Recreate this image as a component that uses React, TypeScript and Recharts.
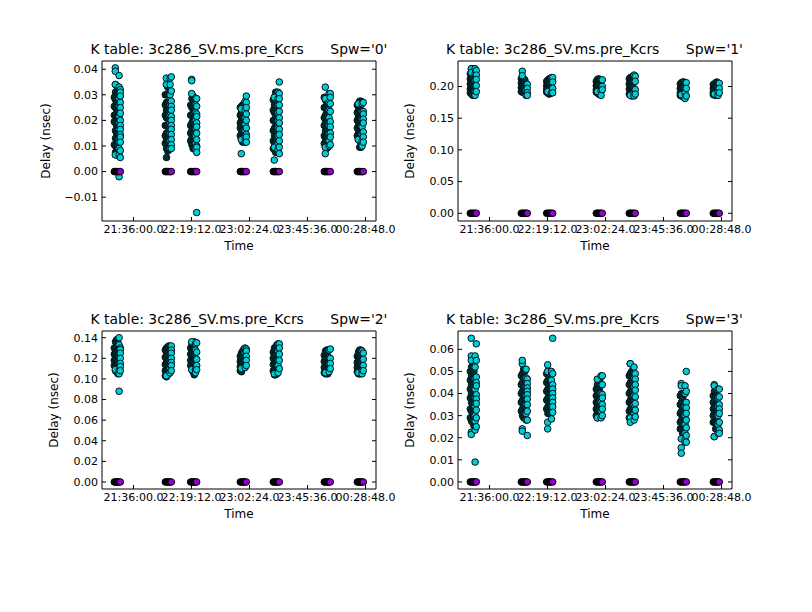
import { ScatterChart, Scatter, XAxis, YAxis, Label } from 'recharts';

// seconds since midnight of the previous day, last solution of each scan
const scanTimes = [77170, 79449, 80583, 82800, 84274, 86553, 88028];
// time of each column of solutions relative to the scan's last one (seconds)
const columnOffsets = [-268, -214, -161, -224, -107, -54, 0];
const backColumns = [0, 1, 2, 4];
const frontColumns = [3, 5, 6];

const timeTicks = [77760, 80352, 82944, 85536, 88128];
const timeLabels = ['21:36:00.0', '22:19:12.0', '23:02:24.0', '23:45:36.0', '00:28:48.0'];
const timeDomain = [76352, 88596];

// each scan: seven columns of delays (nsec)
const spw0Scans = [
  [
    [0.029, 0.0255, 0.022, 0.0195, 0.0105],
    [0.034, 0.031, 0.028, 0.025, 0.022, 0.019, 0.016, 0.013, 0.01, 0.0075],
    [0.0335, 0.03, 0.027, 0.024, 0.021, 0.018, 0.015, 0.012, 0.009, 0.0065],
    [0.0405, 0.0392, 0.034, 0.0065],
    [0.033, 0.03, 0.026, 0.024, 0.021, 0.018, 0.015, 0.012, 0.0105, 0.0085, 0.007],
    [0.0375, 0.033, 0.0285, 0.0255, 0.0215, 0.019, 0.0165, 0.0125, 0.0115, 0.009, 0.0065, -0.002],
    [0.032, 0.031, 0.0295, 0.027, 0.025, 0.0228, 0.02, 0.018, 0.0165, 0.0145, 0.0135, 0.0115, 0.0082, 0.0055],
  ],
  [
    [0.03, 0.026, 0.022, 0.018, 0.014, 0.011],
    [0.03, 0.027, 0.024, 0.021, 0.018, 0.015, 0.012, 0.009, 0.0055],
    [0.033, 0.03, 0.027, 0.024, 0.021, 0.018, 0.015, 0.012, 0.008],
    [0.0365, 0.034],
    [0.031, 0.027, 0.023, 0.02, 0.017, 0.014, 0.011, 0.0085],
    [0.0365, 0.034, 0.03, 0.026, 0.022, 0.019, 0.015, 0.012, 0.009],
    [0.037, 0.0315, 0.0275, 0.0255, 0.024, 0.0215, 0.02, 0.018, 0.0165, 0.0145, 0.0125, 0.0105, 0.009],
  ],
  [
    [0.026, 0.022, 0.018, 0.015, 0.012],
    [0.0285, 0.025, 0.022, 0.019, 0.016, 0.013, 0.0105],
    [0.0295, 0.026, 0.023, 0.02, 0.017, 0.014, 0.011, 0.009],
    [0.036, 0.0355, 0.0305],
    [0.027, 0.024, 0.021, 0.018, 0.015, 0.012, 0.0095],
    [0.0285, 0.026, 0.023, 0.02, 0.017, 0.014, 0.011, 0.0085],
    [0.0285, 0.0255, 0.0225, 0.0215, 0.019, 0.0175, 0.015, 0.0125, 0.01, 0.0095, 0.0075, -0.016],
  ],
  [
    [0.025, 0.022, 0.019, 0.017, 0.014],
    [0.0255, 0.023, 0.02, 0.018, 0.015, 0.013],
    [0.026, 0.023, 0.021, 0.019, 0.016, 0.0135, 0.0115],
    [0.0245, 0.0125, 0.007],
    [0.0265, 0.024, 0.021, 0.018, 0.015, 0.012],
    [0.0275, 0.024, 0.021, 0.0185, 0.016, 0.0135, 0.0115],
    [0.0295, 0.027, 0.025, 0.0225, 0.02, 0.017, 0.0145, 0.0135, 0.0115],
  ],
  [
    [0.028, 0.024, 0.02, 0.016, 0.012, 0.009],
    [0.029, 0.026, 0.023, 0.02, 0.017, 0.014, 0.011, 0.0085],
    [0.031, 0.028, 0.025, 0.022, 0.019, 0.016, 0.013, 0.01, 0.0075],
    [0.029, 0.0095, 0.0045],
    [0.031, 0.027, 0.023, 0.02, 0.017, 0.014, 0.011, 0.008],
    [0.031, 0.0285, 0.026, 0.023, 0.02, 0.017, 0.014, 0.011, 0.0085],
    [0.035, 0.0305, 0.0285, 0.026, 0.0235, 0.021, 0.019, 0.0165, 0.0145, 0.012, 0.0095, 0.007],
  ],
  [
    [0.029, 0.025, 0.021, 0.018, 0.014, 0.011],
    [0.028, 0.025, 0.022, 0.019, 0.016, 0.013, 0.0095],
    [0.029, 0.026, 0.023, 0.02, 0.017, 0.014, 0.012, 0.009],
    [0.033, 0.0285, 0.0095, 0.007],
    [0.029, 0.026, 0.022, 0.019, 0.016, 0.013, 0.0095],
    [0.0305, 0.027, 0.024, 0.021, 0.018, 0.015, 0.012, 0.01],
    [0.0305, 0.029, 0.0265, 0.0235, 0.0195, 0.0175, 0.015, 0.0135, 0.0105],
  ],
  [
    [0.026, 0.023, 0.02, 0.017, 0.014],
    [0.0265, 0.024, 0.021, 0.018, 0.015, 0.0125],
    [0.0275, 0.024, 0.021, 0.018, 0.015, 0.012, 0.0095],
    [0.0265, 0.0125],
    [0.0275, 0.024, 0.021, 0.018, 0.015, 0.012, 0.0095],
    [0.0265, 0.0235, 0.0205, 0.0175, 0.0145, 0.012, 0.01],
    [0.027, 0.0235, 0.0225, 0.0205, 0.019, 0.0155, 0.0135, 0.0115],
  ],
];

const spw1Scans = [
  [
    [0.22, 0.212, 0.204, 0.196, 0.19],
    [0.228, 0.22, 0.212, 0.204, 0.196, 0.188],
    [0.228, 0.22, 0.212, 0.204, 0.196, 0.186],
    [0.228, 0.222],
    [0.228, 0.218, 0.208, 0.198, 0.19],
    [0.228, 0.22, 0.21, 0.192, 0.186],
    [0.225, 0.218, 0.211, 0.2015, 0.192],
  ],
  [
    [0.212, 0.205, 0.198, 0.192],
    [0.21, 0.204, 0.198, 0.191],
    [0.212, 0.205, 0.198, 0.19],
    [0.224, 0.217],
    [0.21, 0.203, 0.197, 0.19],
    [0.194, 0.186],
    [0.2035, 0.197, 0.19, 0.186],
  ],
  [
    [0.208, 0.201, 0.195, 0.191],
    [0.21, 0.203, 0.196, 0.19],
    [0.212, 0.204, 0.196, 0.188],
    [0.192],
    [0.212, 0.204, 0.196, 0.189],
    [0.214, 0.19],
    [0.214, 0.207, 0.197, 0.19],
  ],
  [
    [0.208, 0.201, 0.195, 0.191],
    [0.211, 0.204, 0.197, 0.19],
    [0.212, 0.205, 0.197, 0.188],
    [0.192],
    [0.21, 0.202, 0.195, 0.187],
    [0.193, 0.186],
    [0.2105, 0.2, 0.195],
  ],
  [
    [0.212, 0.204, 0.196, 0.188],
    [0.214, 0.206, 0.198, 0.19],
    [0.215, 0.207, 0.199, 0.191, 0.185],
    [0.186],
    [0.216, 0.208, 0.2, 0.192, 0.186],
    [0.218, 0.19, 0.185],
    [0.216, 0.208, 0.195, 0.188],
  ],
  [
    [0.204, 0.197, 0.19, 0.186],
    [0.206, 0.199, 0.192, 0.185],
    [0.207, 0.2, 0.193, 0.185],
    [0.187],
    [0.207, 0.199, 0.191, 0.183],
    [0.19, 0.181],
    [0.206, 0.197, 0.185],
  ],
  [
    [0.203, 0.197, 0.191, 0.187],
    [0.204, 0.198, 0.192, 0.187],
    [0.206, 0.199, 0.192, 0.186],
    [0.188],
    [0.207, 0.2, 0.192, 0.186],
    [0.192, 0.186],
    [0.205, 0.197, 0.19],
  ],
];

const spw2Scans = [
  [
    [0.13, 0.124, 0.118, 0.113],
    [0.136, 0.13, 0.124, 0.118, 0.113, 0.108],
    [0.138, 0.131, 0.125, 0.119, 0.113, 0.107],
    [0.109],
    [0.135, 0.128, 0.122, 0.116, 0.11, 0.105],
    [0.14, 0.133, 0.108, 0.105, 0.088],
    [0.13, 0.1285, 0.125, 0.12, 0.115, 0.112, 0.108],
  ],
  [
    [0.128, 0.121, 0.114, 0.108, 0.103],
    [0.13, 0.123, 0.116, 0.109, 0.102],
    [0.131, 0.124, 0.117, 0.11, 0.104],
    [0.103],
    [0.132, 0.125, 0.118, 0.111, 0.105],
    [0.11, 0.106],
    [0.132, 0.128, 0.125, 0.12, 0.116, 0.113, 0.108],
  ],
  [
    [0.13, 0.124, 0.118, 0.113],
    [0.134, 0.128, 0.122, 0.116, 0.11],
    [0.135, 0.129, 0.123, 0.117, 0.111, 0.107],
    [0.136, 0.109],
    [0.136, 0.13, 0.123, 0.117, 0.11, 0.104],
    [0.134, 0.128, 0.109, 0.106],
    [0.135, 0.126, 0.119, 0.113, 0.109],
  ],
  [
    [0.122, 0.117, 0.112, 0.108],
    [0.125, 0.12, 0.115, 0.11, 0.107],
    [0.127, 0.121, 0.116, 0.111],
    [0.11],
    [0.129, 0.123, 0.118, 0.113],
    [0.13, 0.125, 0.111],
    [0.129, 0.127, 0.122, 0.118, 0.113],
  ],
  [
    [0.126, 0.12, 0.114, 0.108],
    [0.13, 0.123, 0.116, 0.109, 0.104],
    [0.131, 0.124, 0.117, 0.11, 0.104],
    [0.105],
    [0.133, 0.126, 0.119, 0.112, 0.105],
    [0.134, 0.127, 0.113, 0.106],
    [0.134, 0.13, 0.124, 0.118, 0.11],
  ],
  [
    [0.123, 0.117, 0.111, 0.106],
    [0.127, 0.12, 0.114, 0.108, 0.105],
    [0.128, 0.121, 0.115, 0.109, 0.105],
    [0.106],
    [0.128, 0.122, 0.115, 0.109, 0.105],
    [0.128, 0.107],
    [0.129, 0.12, 0.115, 0.11],
  ],
  [
    [0.122, 0.116, 0.111, 0.107],
    [0.126, 0.12, 0.114, 0.108, 0.105],
    [0.128, 0.121, 0.115, 0.109, 0.105],
    [0.106],
    [0.128, 0.122, 0.116, 0.11, 0.105],
    [0.127, 0.108, 0.105],
    [0.125, 0.119, 0.113, 0.108],
  ],
];

const spw3Scans = [
  [
    [0.05, 0.046, 0.042, 0.038, 0.033, 0.029],
    [0.052, 0.048, 0.044, 0.04, 0.036, 0.032, 0.0275],
    [0.056, 0.052, 0.047, 0.043, 0.039, 0.035, 0.031, 0.027],
    [0.065, 0.057, 0.055, 0.0225, 0.0215],
    [0.05, 0.045, 0.04, 0.036, 0.033, 0.03, 0.0255],
    [0.057, 0.052, 0.047, 0.042, 0.038, 0.034, 0.03, 0.0275, 0.0235, 0.009],
    [0.0625, 0.055, 0.0475, 0.045, 0.0435, 0.0395, 0.0375, 0.0355, 0.0325, 0.029, 0.025],
  ],
  [
    [0.048, 0.044, 0.04, 0.036, 0.032],
    [0.049, 0.045, 0.041, 0.037, 0.033, 0.03],
    [0.051, 0.047, 0.043, 0.039, 0.035, 0.031, 0.029],
    [0.0535, 0.055, 0.024, 0.023],
    [0.05, 0.046, 0.042, 0.038, 0.034, 0.03],
    [0.051, 0.047, 0.043, 0.039, 0.035, 0.031, 0.028],
    [0.0465, 0.0445, 0.0425, 0.041, 0.0395, 0.0375, 0.035, 0.032, 0.028, 0.021],
  ],
  [
    [0.049, 0.045, 0.041, 0.037, 0.033],
    [0.05, 0.046, 0.042, 0.038, 0.034, 0.031],
    [0.048, 0.044, 0.04, 0.036, 0.032],
    [0.053, 0.05, 0.027, 0.024],
    [0.05, 0.046, 0.042, 0.038, 0.034, 0.031],
    [0.05, 0.046, 0.042, 0.038, 0.034, 0.0285],
    [0.065, 0.049, 0.044, 0.042, 0.04, 0.038, 0.036, 0.034, 0.0315],
  ],
  [
    [0.042, 0.039, 0.036, 0.033, 0.03],
    [0.044, 0.041, 0.038, 0.035, 0.032, 0.029],
    [0.046, 0.042, 0.039, 0.036, 0.033, 0.03],
    [0.0465, 0.029],
    [0.0465, 0.043, 0.04, 0.037, 0.034, 0.031],
    [0.048, 0.044, 0.04, 0.036, 0.032, 0.029],
    [0.048, 0.044, 0.0395, 0.038, 0.035, 0.033, 0.03],
  ],
  [
    [0.048, 0.044, 0.04, 0.036, 0.032, 0.029],
    [0.049, 0.045, 0.041, 0.037, 0.033, 0.029],
    [0.05, 0.046, 0.042, 0.038, 0.034, 0.03, 0.028],
    [0.0535, 0.0535, 0.029, 0.027],
    [0.049, 0.045, 0.041, 0.037, 0.033, 0.029],
    [0.052, 0.047, 0.043, 0.039, 0.035, 0.031, 0.028],
    [0.049, 0.0465, 0.044, 0.0415, 0.0385, 0.0355, 0.0325, 0.0295],
  ],
  [
    [0.039, 0.035, 0.031, 0.027, 0.024],
    [0.04, 0.036, 0.032, 0.028, 0.024],
    [0.038, 0.034, 0.03, 0.026, 0.022],
    [0.0445, 0.0435, 0.0195, 0.0155, 0.013],
    [0.04, 0.035, 0.031, 0.027, 0.023],
    [0.0435, 0.04, 0.034, 0.03, 0.026, 0.022, 0.019, 0.018],
    [0.05, 0.041, 0.036, 0.0335, 0.031, 0.028, 0.0245, 0.021, 0.018],
  ],
  [
    [0.039, 0.036, 0.033, 0.03, 0.027],
    [0.041, 0.037, 0.034, 0.031, 0.027],
    [0.039, 0.035, 0.031, 0.027, 0.024],
    [0.044, 0.0435, 0.0205, 0.0205],
    [0.039, 0.035, 0.031, 0.027],
    [0.042, 0.038, 0.034, 0.03, 0.026, 0.022],
    [0.042, 0.0385, 0.035, 0.033, 0.031, 0.027, 0.0235, 0.022],
  ],
];

const spw0Ticks = [-0.01, 0, 0.01, 0.02, 0.03, 0.04];
const spw1Ticks = [0, 0.05, 0.1, 0.15, 0.2];
const spw2Ticks = [0, 0.02, 0.04, 0.06, 0.08, 0.1, 0.12, 0.14];
const spw3Ticks = [0, 0.01, 0.02, 0.03, 0.04, 0.05, 0.06];

const spw0Domain = [-0.0193, 0.0432];
const spw1Domain = [-0.0122, 0.2402];
const spw2Domain = [-0.0068, 0.1465];
const spw3Domain = [-0.0032, 0.0683];

const fontFamily = '"DejaVu Sans", sans-serif';

function pointsFor(scans: number[][][], column: number) {
  return scans.flatMap((scan, s) =>
    scan[column].map((v) => ({ t: scanTimes[s] + columnOffsets[column], v }))
  );
}

function zeroPoints(columns: number[]) {
  return scanTimes.flatMap((time) => columns.map((c) => ({ t: time + columnOffsets[c], v: 0 })));
}

function dot(fill: string, stroke = '#000') {
  return (props: any) => (
    <circle cx={props.cx} cy={props.cy} r={3.3} fill={fill} stroke={stroke} strokeWidth={1} />
  );
}

function Panel({ spw, scans, ticks, domain, left, top, height, labelDx }: any) {
  const tickStyle = { fontSize: 11, fontFamily, fill: '#000' };
  const blank = () => '';
  return (
    <>
      <div
        style={{
          position: 'absolute',
          left: left - 40,
          top: top - 20,
          width: 354,
          textAlign: 'center',
          whiteSpace: 'pre',
          fontFamily,
          fontSize: 13.9,
          lineHeight: '17px',
          color: '#000',
        }}
      >
        {`K table: 3c286_SV.ms.pre_Kcrs      Spw='${spw}'`}
      </div>
      <div style={{ position: 'absolute', left: left - 62, top: top - 10 }}>
        <ScatterChart width={376} height={height} margin={{ top: 9, right: 39, bottom: 0, left: 0 }}>
          <XAxis
            dataKey="t"
            type="number"
            domain={timeDomain}
            ticks={timeTicks}
            allowDataOverflow
            height={50}
            interval={0}
            tickSize={-4}
            tickMargin={8}
            stroke="#000"
            tick={tickStyle}
            tickFormatter={(t: number) => timeLabels[timeTicks.indexOf(t)]}
          >
            <Label value="Time" position="center" style={{ fontSize: 12, fontFamily, fill: '#000' }} />
          </XAxis>
          <XAxis
            xAxisId="top"
            orientation="top"
            type="number"
            domain={timeDomain}
            ticks={timeTicks}
            allowDataOverflow
            height={1}
            interval={0}
            tickSize={-4}
            stroke="#000"
            tickFormatter={blank}
          />
          <YAxis
            dataKey="v"
            type="number"
            domain={domain}
            ticks={ticks}
            allowDataOverflow
            width={62}
            interval={0}
            tickSize={-4}
            tickMargin={8}
            stroke="#000"
            tick={tickStyle}
            tickFormatter={(v: number) => v.toFixed(2).replace('-', '\u2212')}
          >
            <Label
              value="Delay (nsec)"
              angle={-90}
              position="center"
              dx={labelDx}
              style={{ fontSize: 12, fontFamily, fill: '#000' }}
            />
          </YAxis>
          <YAxis
            yAxisId="right"
            orientation="right"
            type="number"
            domain={domain}
            ticks={ticks}
            allowDataOverflow
            width={1}
            interval={0}
            tickSize={-4}
            stroke="#000"
            tickFormatter={blank}
          />
          {backColumns.map((c) => (
            <Scatter key={c} data={pointsFor(scans, c)} shape={dot('#042e30', '#001a1b')} isAnimationActive={false} />
          ))}
          {frontColumns.map((c) => (
            <Scatter key={c} data={pointsFor(scans, c)} shape={dot('#00ced1', '#012')} isAnimationActive={false} />
          ))}
          <Scatter data={zeroPoints([0, 1, 2, 4, 5])} shape={dot('#1e0330')} isAnimationActive={false} />
          <Scatter data={zeroPoints([6])} shape={dot('#9400d3')} isAnimationActive={false} />
        </ScatterChart>
      </div>
    </>
  );
}

export default function App() {
  return (
    <div style={{ position: 'absolute', left: 0, top: 0, width: 812, height: 612, background: '#fff' }}>
      <Panel spw="0" scans={spw0Scans} ticks={spw0Ticks} domain={spw0Domain} left={102} top={61} height={220} labelDx={-25} />
      <Panel spw="1" scans={spw1Scans} ticks={spw1Ticks} domain={spw1Domain} left={457.5} top={61} height={220} labelDx={-17} />
      <Panel spw="2" scans={spw2Scans} ticks={spw2Ticks} domain={spw2Domain} left={102} top={331} height={218} labelDx={-17} />
      <Panel spw="3" scans={spw3Scans} ticks={spw3Ticks} domain={spw3Domain} left={457.5} top={331} height={218} labelDx={-17} />
    </div>
  );
}
